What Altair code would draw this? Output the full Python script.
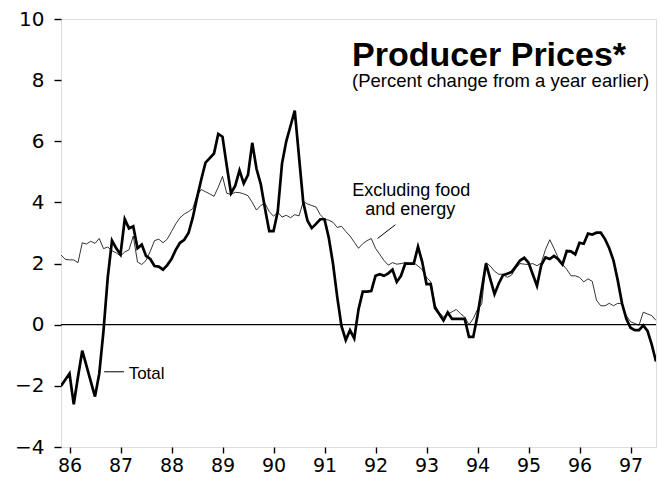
import altair as alt
import pandas as pd

# monthly, Nov 1985 .. Jul 1997 (decimal years)
start_year = 85 + 10 / 12
total = [
    -2.0, -1.8, -1.6, -2.6, -1.7, -0.85, -1.35, -1.85, -2.35, -1.6,
    -0.2, 1.55, 2.75, 2.5, 2.3, 3.45, 3.15, 3.22, 2.5, 2.62,
    2.25, 2.15, 1.92, 1.9, 1.8, 1.95, 2.15, 2.45, 2.68, 2.78,
    3.0, 3.5, 4.15, 4.75, 5.3, 5.45, 5.6, 6.24, 6.15, 5.2,
    4.3, 4.55, 5.05, 4.62, 4.9, 5.95, 5.1, 4.6, 3.8, 3.06,
    3.06, 3.7, 5.27, 6.0, 6.5, 7.0, 5.5, 4.0, 3.4, 3.16,
    3.3, 3.45, 3.45, 2.85, 2.0, 0.9, -0.05, -0.5, -0.18, -0.45,
    0.5, 1.08, 1.08, 1.1, 1.6, 1.65, 1.6, 1.68, 1.8, 1.4,
    1.6, 2.0, 2.0, 2.0, 2.55, 2.05, 1.33, 1.33, 0.55, 0.35,
    0.14, 0.4, 0.19, 0.19, 0.19, 0.19, -0.4, -0.4, 0.3, 1.15,
    2.0, 1.5, 1.0, 1.35, 1.62, 1.67, 1.72, 1.9, 2.1, 2.19,
    2.03, 1.65, 1.27, 1.95, 2.2, 2.15, 2.25, 2.14, 1.97, 2.41,
    2.4, 2.3, 2.68, 2.65, 2.98, 2.95, 3.01, 3.01, 2.8, 2.5,
    2.1, 1.45, 0.7, 0.2, -0.1, -0.18, -0.18, -0.02, -0.2, -0.65,
    -1.2,
]
core = [
    2.28, 2.14, 2.12, 2.12, 2.03, 2.68, 2.64, 2.73, 2.66, 2.82,
    2.49, 2.54, 2.42, 2.35, 2.25, 2.38, 2.45, 2.9, 2.05, 1.97,
    2.1, 2.4, 2.75, 2.8, 2.68, 2.8, 3.05, 3.3, 3.5, 3.62,
    3.7, 3.8, 4.24, 4.42, 4.35, 4.28, 4.2, 4.5, 4.85, 4.3,
    4.26, 4.33, 4.32, 4.28, 4.22, 4.0, 3.75, 3.9, 3.97, 3.7,
    3.55, 3.68, 3.52, 3.58, 3.5, 3.6, 3.56, 4.03, 3.95, 3.9,
    3.85, 3.6, 3.45, 3.42, 3.35, 3.18, 3.22, 3.05, 2.9, 2.7,
    2.5, 2.65, 2.75, 2.82, 2.5, 2.3, 2.1, 1.95, 2.03, 1.98,
    2.0, 2.03, 2.0, 2.03, 1.92, 1.8, 1.55, 1.4, 0.65, 0.4,
    0.25, 0.35, 0.42, 0.5, 0.36, 0.25, 0.0, 0.2, 0.5, 0.68,
    2.03, 1.92, 1.75, 1.65, 1.65, 1.55, 1.62, 1.85, 2.0, 1.98,
    1.97, 2.0, 1.93, 2.02, 2.46, 2.78, 2.5, 2.18, 1.98, 1.81,
    1.6, 1.6, 1.55, 1.4, 1.5, 1.42, 0.8, 0.62, 0.62, 0.7,
    0.62, 0.7, 0.68, 0.3, 0.1, 0.04, -0.02, 0.41, 0.35, 0.3,
    0.14,
]
year_ticks = list(range(86, 98))
y_ticks = [-4, -2, 0, 2, 4, 6, 8, 10]

# annotation text and anchor points (data coordinates)
ann_text = ["Excluding food", "and energy", "Total"]
ann_x = [92.70, 92.68, 87.16]
ann_y = [4.20, 3.60, -1.76]
ann_align = ["center", "center", "left"]
leader_x = [92.04, 86.68]
leader_x2 = [92.39, 87.07]
leader_y = [2.82, -1.54]
leader_y2 = [3.27, -1.54]

t = [start_year + i / 12 for i in range(len(total))]
df = pd.DataFrame({"t": t, "total": total, "core": core})
x_end = t[-1]

xscale = alt.Scale(domain=[start_year, x_end], nice=False, zero=False)
yscale = alt.Scale(domain=[-4, 10], nice=False, zero=False)
x = alt.X("t:Q", scale=xscale, title=None,
          axis=alt.Axis(values=year_ticks, format="d", title=None, grid=False, domain=False,
                        tickSize=6, tickWidth=1.4, tickColor="black", labelPadding=3,
                        labelFont="DejaVu Sans", labelFontSize=19, labelColor="black"))
y = alt.Y("total:Q", scale=yscale, title=None,
          axis=alt.Axis(values=y_ticks, title=None, grid=False, domain=False,
                        tickSize=7, tickWidth=1.4, tickColor="black", labelPadding=10,
                        labelFont="DejaVu Sans", labelFontSize=20, labelColor="black"))

base = alt.Chart(df)
thick = base.mark_line(color="black", strokeWidth=2.7, strokeJoin="miter", clip=True).encode(x=x, y=y)
thin = base.mark_line(color="black", strokeWidth=0.8, clip=True).encode(
    x=alt.X("t:Q", scale=xscale, title=None), y=alt.Y("core:Q", scale=yscale, title=None))

zero = alt.Chart(pd.DataFrame({"z": [0]})).mark_rule(color="black", strokeWidth=1.3).encode(
    y=alt.Y("z:Q", scale=yscale, title=None))

font = "Liberation Sans"
ann_df = pd.DataFrame({"s": ann_text, "x": ann_x, "y": ann_y, "al": ann_align})
ann_center = alt.Chart(ann_df[ann_df["al"] == "center"]).mark_text(
    font=font, fontSize=18, align="center", baseline="alphabetic", color="black"
).encode(text="s:N", x=alt.X("x:Q", scale=xscale, title=None), y=alt.Y("y:Q", scale=yscale, title=None))
ann_left = alt.Chart(ann_df[ann_df["al"] == "left"]).mark_text(
    font=font, fontSize=17, align="left", baseline="alphabetic", color="black"
).encode(text="s:N", x=alt.X("x:Q", scale=xscale, title=None), y=alt.Y("y:Q", scale=yscale, title=None))
leaders = alt.Chart(pd.DataFrame({"x": leader_x, "x2": leader_x2, "y": leader_y, "y2": leader_y2})).mark_rule(
    color="black", strokeWidth=1
).encode(x=alt.X("x:Q", scale=xscale, title=None), x2="x2:Q",
         y=alt.Y("y:Q", scale=yscale, title=None), y2="y2:Q")

title = alt.Chart(pd.DataFrame({"s": ["Producer Prices*"]})).mark_text(
    font=font, fontSize=34, fontWeight="bold", align="left", baseline="alphabetic", color="black"
).encode(text="s:N", x=alt.value(291), y=alt.value(47))
subtitle = alt.Chart(pd.DataFrame({"s": ["(Percent change from a year earlier)"]})).mark_text(
    font=font, fontSize=18.5, align="left", baseline="alphabetic", color="black"
).encode(text="s:N", x=alt.value(291), y=alt.value(68))

chart = alt.layer(thick, thin, zero, title, subtitle, ann_center, ann_left, leaders).properties(
    width=595, height=428,
    autosize=alt.AutoSizeParams(type="none"),
    padding={"left": 53, "top": 11, "right": 1, "bottom": 32},
).configure_view(stroke="black", strokeWidth=1.5).configure(background="white")

chart.save("out.html", embed_options={"renderer": "svg", "actions": False})
